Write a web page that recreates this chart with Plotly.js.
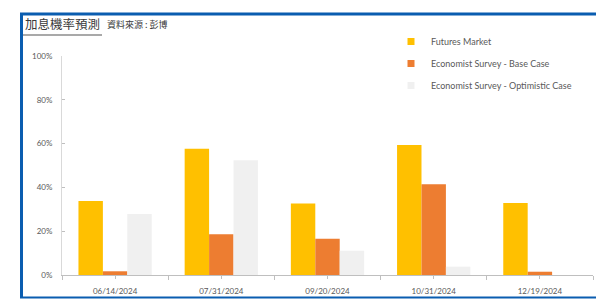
<!DOCTYPE html>
<html>
<head>
<meta charset="utf-8">
<script src="https://cdn.plot.ly/plotly-3.0.1.min.js"></script>
<style>
html,body{margin:0;padding:0;background:#fff;}
#chart{width:596px;height:299px;}
</style>
</head>
<body>
<div id="chart"></div>
<script>
// ---- data ----
const dates = ["06/14/2024", "07/31/2024", "09/20/2024", "10/31/2024", "12/19/2024"];
const seriesNames = ["Futures Market", "Economist Survey - Base Case", "Economist Survey - Optimistic Case"];
const futuresMarket = [0.338, 0.577, 0.326, 0.594, 0.329];
const baseCase = [0.017, 0.186, 0.166, 0.414, 0.015];
const optimisticCase = [0.279, 0.524, 0.111, 0.038, 0.0];
const titleText = "加息機率預測";
const sourceText = "資料來源 : 彭博";

const colors = ["#FFC000", "#ED7D31", "#F0F0F0"];
const values = [futuresMarket, baseCase, optimisticCase];

const traces = [];
values.forEach((v, i) => {
  traces.push({
    type: "bar", x: dates, y: v, name: seriesNames[i],
    marker: {color: colors[i], line: {width: 0}},
    showlegend: false, hoverinfo: "x+y"
  });
});
// legend entries with small square markers
values.forEach((v, i) => {
  traces.push({
    type: "scatter", mode: "markers", x: [dates[0]], y: [null], name: seriesNames[i],
    marker: {color: colors[i], symbol: "square", size: 7},
    legendgroup: "g" + i, showlegend: true, hoverinfo: "skip"
  });
});
// dummy trace for centre ticks
traces.push({type: "scatter", mode: "markers", x: dates, y: dates.map(() => null),
  xaxis: "x2", showlegend: false, hoverinfo: "skip"});

const L = 62, R = 3, T = 56, B = 24, W = 596, H = 299;
const pw = W - L - R, ph = H - T - B;
const px = (x) => (x - L) / pw;
const py = (y) => (H - B - y) / ph;
const blue = "#0A5DB0";

const layout = {
  width: W, height: H,
  margin: {l: L, r: R, t: T, b: B, pad: 0},
  paper_bgcolor: "#ffffff", plot_bgcolor: "#ffffff",
  font: {family: "Lato, 'Liberation Sans', sans-serif", size: 8, color: "#595959"},
  barmode: "group", bargap: 0.31, bargroupgap: 0,
  xaxis: {
    type: "category", range: [-0.5, 4.5], fixedrange: true,
    showline: true, linecolor: "#BFBFBF", linewidth: 1,
    ticks: "outside", tickson: "boundaries", ticklen: 4, tickcolor: "#BFBFBF",
    showgrid: false, zeroline: false,
    tickfont: {size: 8, color: "#595959"}, ticklabelstandoff: 8
  },
  xaxis2: {
    type: "category", overlaying: "x", range: [-0.5, 4.5], side: "bottom",
    showline: false, ticks: "outside", ticklen: 3, tickcolor: "#BFBFBF",
    showticklabels: false, showgrid: false, zeroline: false
  },
  yaxis: {
    range: [0, 1], dtick: 0.2, tickformat: ".0%", fixedrange: true,
    showline: true, linecolor: "#D9D9D9", linewidth: 1,
    ticks: "inside", ticklen: 3, tickcolor: "#BFBFBF",
    showgrid: false, zeroline: false,
    tickfont: {size: 8, color: "#595959"}, ticklabelstandoff: 7
  },
  legend: {
    x: px(391), y: py(27), xanchor: "left", yanchor: "top",
    font: {size: 9, color: "#595959"}, bgcolor: "rgba(0,0,0,0)",
    tracegroupgap: 3, itemwidth: 30
  },
  shapes: [
    {type: "line", xref: "paper", yref: "paper", x0: px(20), x1: px(596), y0: py(14), y1: py(14), line: {color: blue, width: 3}},
    {type: "line", xref: "paper", yref: "paper", x0: px(21.5), x1: px(21.5), y0: py(13), y1: py(298), line: {color: blue, width: 3}},
    {type: "line", xref: "paper", yref: "paper", x0: px(20), x1: px(596), y0: py(297.5), y1: py(297.5), line: {color: blue, width: 2}},
    {type: "line", xref: "paper", yref: "paper", x0: px(23), x1: px(102), y0: py(35), y1: py(35), line: {color: "#8C8C8C", width: 1.5}}
  ],
  annotations: [
    {text: titleText, xref: "paper", yref: "paper", x: px(23), y: py(23), xanchor: "left", yanchor: "middle",
     showarrow: false, font: {family: "'Noto Sans CJK TC', sans-serif", size: 12.5, color: "#3A3A3A"}},
    {text: sourceText, xref: "paper", yref: "paper", x: px(105), y: py(24), xanchor: "left", yanchor: "middle",
     showarrow: false, font: {family: "'Noto Sans CJK TC', sans-serif", size: 9, color: "#3A3A3A"}}
  ]
};

Plotly.newPlot("chart", traces, layout, {displayModeBar: false, staticPlot: true});
</script>
</body>
</html>
